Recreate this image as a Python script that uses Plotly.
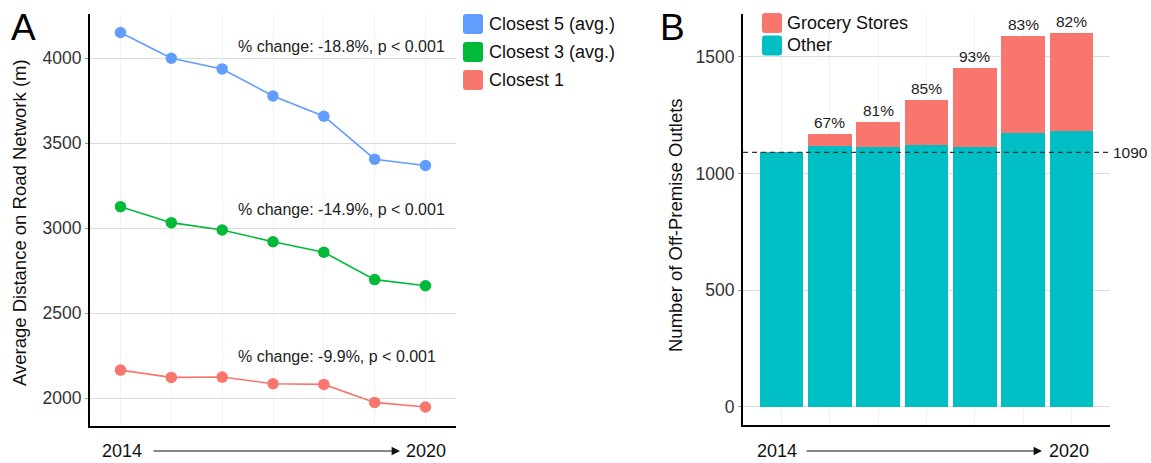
import plotly.graph_objects as go

W, H = 1151, 463
FONT = "Liberation Sans, Arial, sans-serif"

# ---------------- data ----------------
years_idx = [0, 1, 2, 3, 4, 5, 6]
closest5 = [4151, 4000, 3937, 3778, 3659, 3406, 3369]
closest3 = [3127, 3033, 2990, 2921, 2859, 2698, 2662]
closest1 = [2166, 2123, 2125, 2086, 2082, 1976, 1949]
series_names = ["Closest 5 (avg.)", "Closest 3 (avg.)", "Closest 1"]
series_colors = ["#619CFF", "#00BA38", "#F8766D"]
change_labels = ["% change: -18.8%, p < 0.001",
                 "% change: -14.9%, p < 0.001",
                 "% change: -9.9%, p < 0.001"]
change_label_y = [4068, 3108, 2245]

other_outlets = [1090, 1117, 1114, 1122, 1114, 1173, 1181]
grocery_outlets = [0, 53, 106, 192, 336, 417, 422]
pct_labels = ["", "67%", "81%", "85%", "93%", "83%", "82%"]
baseline = 1090

left_ticks = [2000, 2500, 3000, 3500, 4000]
right_ticks = [0, 500, 1000, 1500]

# ---------------- helpers ----------------
def px(x):
    return x / W

def py(y):
    return 1 - y / H

def rounded_rect(x0, y0, x1, y1, r=3):
    X0, X1 = px(x0), px(x1)
    Y0, Y1 = py(y0), py(y1)
    rx, ry = r / W, r / H
    return (f"M {X0+rx},{Y0} L {X1-rx},{Y0} Q {X1},{Y0} {X1},{Y0-ry} "
            f"L {X1},{Y1+ry} Q {X1},{Y1} {X1-rx},{Y1} L {X0+rx},{Y1} "
            f"Q {X0},{Y1} {X0},{Y1+ry} L {X0},{Y0-ry} Q {X0},{Y0} {X0+rx},{Y0} Z")

def text_ann(x, y, text, size, color="#111111", xanchor="center", yanchor="middle", **kw):
    fig.add_annotation(x=px(x), y=py(y), xref="paper", yref="paper", text=text,
                       showarrow=False, xanchor=xanchor, yanchor=yanchor,
                       font=dict(size=size, color=color, family=FONT), **kw)

fig = go.Figure()

# ---------------- panel A ----------------
for vals, name, col in zip([closest5, closest3, closest1], series_names, series_colors):
    fig.add_trace(go.Scatter(
        x=years_idx, y=vals, mode="lines+markers", name=name,
        line=dict(color=col, width=1.6),
        marker=dict(color=col, size=11.5),
        xaxis="x", yaxis="y", showlegend=False))

for txt, yv in zip(change_labels, change_label_y):
    fig.add_annotation(x=2.28, y=yv, xref="x", yref="y", text=txt,
                       showarrow=False, xanchor="left", yanchor="middle",
                       font=dict(size=16, color="#222222", family=FONT))

# ---------------- panel B ----------------
fig.add_trace(go.Bar(x=years_idx, y=other_outlets, name="Other",
                     marker=dict(color="#00BFC4", line=dict(width=0)),
                     width=0.9, xaxis="x2", yaxis="y2", showlegend=False))
fig.add_trace(go.Bar(x=years_idx, y=grocery_outlets, name="Grocery Stores",
                     marker=dict(color="#F8766D", line=dict(width=0)),
                     width=0.9, xaxis="x2", yaxis="y2", showlegend=False))

for i, lab in enumerate(pct_labels):
    if lab:
        fig.add_annotation(x=years_idx[i], y=other_outlets[i] + grocery_outlets[i],
                           xref="x2", yref="y2", text=lab, showarrow=False,
                           yanchor="bottom", yshift=1,
                           font=dict(size=15.5, color="#222222", family=FONT))

fig.add_shape(type="line", xref="x2 domain", yref="y2", x0=0, x1=1,
              y0=baseline, y1=baseline,
              line=dict(color="#333333", width=1.1, dash="5px,4px"))
fig.add_annotation(x=px(1111), y=baseline, xref="paper", yref="y2",
                   text=str(baseline), showarrow=False, xanchor="left", yanchor="middle",
                   font=dict(size=15.5, color="#222222", family=FONT))

# ---------------- legends (manual) ----------------
legA_y = [24, 52, 80]
for name, col, yc in zip(series_names, series_colors, legA_y):
    fig.add_shape(type="path", xref="paper", yref="paper",
                  path=rounded_rect(463, yc - 10, 483, yc + 10),
                  fillcolor=col, line=dict(width=0))
    text_ann(487, yc, name, 18, xanchor="left")

legB = [("Grocery Stores", "#F8766D", 23), ("Other", "#00BFC4", 45.5)]
for name, col, yc in legB:
    fig.add_shape(type="path", xref="paper", yref="paper",
                  path=rounded_rect(762, yc - 10, 782, yc + 10),
                  fillcolor=col, line=dict(width=0))
    text_ann(785, yc, name, 18, xanchor="left")

# ---------------- panel letters ----------------
text_ann(9, 27, "A", 37, color="black", xanchor="left")
text_ann(658, 27, "B", 37, color="black", xanchor="left")

# ---------------- y titles ----------------
text_ann(19, 223, "Average Distance on Road Network (m)", 18.5, textangle=-90)
text_ann(675, 225, "Number of Off-Premise Outlets", 18.5, textangle=-90)

# ---------------- bottom year arrows ----------------
for (t0x, t1x, a0, a1) in [(122, 426, 152, 400), (777, 1069, 805, 1042)]:
    text_ann(t0x, 451, "2014", 18)
    text_ann(t1x, 451, "2020", 18)
    fig.add_annotation(x=px(a1), y=py(451), xref="paper", yref="paper", text="",
                       showarrow=True, ax=-(a1 - a0), ay=0, arrowhead=2,
                       arrowsize=1.4, arrowwidth=1.2, arrowcolor="#111111")

# ---------------- axes ----------------
axis_common = dict(showline=True, linecolor="black", linewidth=2,
                   zeroline=False, fixedrange=True)

fig.update_layout(
    width=W, height=H,
    margin=dict(l=0, r=0, t=0, b=0),
    paper_bgcolor="white", plot_bgcolor="white",
    barmode="stack", bargap=0.1,
    font=dict(family=FONT),
    xaxis=dict(domain=[px(90), px(456)], range=[-0.6, 6.6],
               tickvals=years_idx, showticklabels=False, ticks="",
               showgrid=True, gridcolor="#f2f2f2", gridwidth=1,
               anchor="y", **axis_common),
    yaxis=dict(domain=[py(425.7), py(14)], range=[1839, 4260],
               tickvals=left_ticks, ticks="outside", ticklen=3, tickcolor="#999999",
               tickfont=dict(size=17.5, color="#333333", family=FONT),
               showgrid=True, gridcolor="#dcdcdc", gridwidth=1,
               anchor="x", **axis_common),
    xaxis2=dict(domain=[px(743), px(1110)], range=[-0.8, 6.8],
                tickvals=years_idx, showticklabels=False, ticks="",
                showgrid=True, gridcolor="#f2f2f2", gridwidth=1,
                anchor="y2", **axis_common),
    yaxis2=dict(domain=[py(425), py(14)], range=[-78, 1683],
                tickvals=right_ticks, ticks="outside", ticklen=3, tickcolor="#999999",
                tickfont=dict(size=17.5, color="#333333", family=FONT),
                showgrid=True, gridcolor="#dcdcdc", gridwidth=1,
                anchor="x2", **axis_common),
)

fig.write_html("out.html",
               config={"displayModeBar": False},
               post_script="document.body.style.margin='0';document.body.style.padding='0';document.body.style.overflow='hidden';")
